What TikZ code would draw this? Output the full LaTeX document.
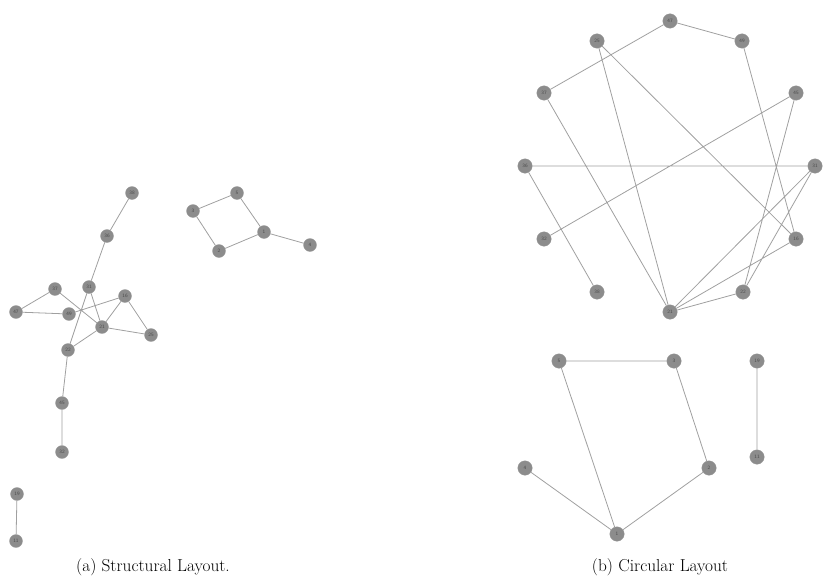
\documentclass[tikz,border=0pt]{standalone}
\usepackage{fontspec}
\begin{document}
\begin{tikzpicture}[x=1pt,y=-1pt,
  vtx/.style={circle,fill=nodegray,draw=nodeedge,line width=0.3pt,inner sep=0pt,minimum size=13pt,
    font=\sffamily\fontsize{5}{6}\selectfont,text=black!70},
  cvtx/.style={vtx,minimum size=14.5pt},
  lnk/.style={draw=linkgray,line width=0.8pt},
  captext/.style={font=\fontsize{17.3}{20}\selectfont,inner sep=0pt}]
\definecolor{nodegray}{HTML}{8C8C8C}
\definecolor{nodeedge}{HTML}{9A9A9A}
\definecolor{linkgray}{HTML}{A0A0A0}
\useasboundingbox (0,0) rectangle (829,586);
% ---------- (a) structural layout ----------
\node[vtx] (a38) at (132,193) {38};
\node[vtx] (a36) at (107,236) {36};
\node[vtx] (a31) at (89,287) {31};
\node[vtx] (a37) at (55,289) {37};
\node[vtx] (a16) at (125,296) {16};
\node[vtx] (a47) at (16,312) {47};
\node[vtx] (a49) at (69,314) {49};
\node[vtx] (a21) at (102,327) {21};
\node[vtx] (a25) at (151,335) {25};
\node[vtx] (a22) at (68,350) {22};
\node[vtx] (a45) at (62,403) {45};
\node[vtx] (a32) at (62,452) {32};
\node[vtx] (a19) at (17,494) {19};
\node[vtx] (a11) at (16,541) {11};
\node[vtx] (a5) at (237,193) {5};
\node[vtx] (a3) at (193,211) {3};
\node[vtx] (a1) at (264,232) {1};
\node[vtx] (a2) at (219,251) {2};
\node[vtx] (a4) at (310,245) {4};
\path[lnk] (a38) -- (a36) (a36) -- (a31) (a31) -- (a21) (a31) -- (a22)
  (a37) -- (a47) (a37) -- (a21) (a47) -- (a49) (a49) -- (a16)
  (a16) -- (a21) (a16) -- (a25) (a21) -- (a25) (a21) -- (a22)
  (a22) -- (a45) (a45) -- (a32) (a19) -- (a11)
  (a5) -- (a3) (a5) -- (a1) (a3) -- (a2) (a2) -- (a1) (a1) -- (a4);
% ---------- (b) circular layout ----------
\node[cvtx] (b41) at (670,21) {47};
\node[cvtx] (b25) at (597,41) {25};
\node[cvtx] (b46) at (742,41) {49};
\node[cvtx] (b37) at (544,93) {37};
\node[cvtx] (b48) at (796,93) {45};
\node[cvtx] (b26) at (525,166) {36};
\node[cvtx] (b31) at (815,166) {31};
\node[cvtx] (b30) at (544,239) {32};
\node[cvtx] (b16) at (796,239) {16};
\node[cvtx] (b38) at (597,292) {38};
\node[cvtx] (b22) at (743,292) {22};
\node[cvtx] (b21) at (670,312) {21};
\node[cvtx] (b5) at (559,361) {5};
\node[cvtx] (b3) at (674,361) {3};
\node[cvtx] (b19) at (757,361) {19};
\node[cvtx] (b11) at (757,457) {11};
\node[cvtx] (b4) at (525,468) {4};
\node[cvtx] (b2) at (709,468) {2};
\node[cvtx] (b1) at (617,534) {1};
\path[lnk] (b41) -- (b46) (b41) -- (b37) (b25) -- (b21) (b25) -- (b16)
  (b37) -- (b21) (b46) -- (b16) (b48) -- (b30) (b48) -- (b22)
  (b26) -- (b31) (b26) -- (b38) (b31) -- (b21) (b31) -- (b22)
  (b16) -- (b21) (b22) -- (b21)
  (b5) -- (b3) (b5) -- (b1) (b3) -- (b2) (b2) -- (b1) (b4) -- (b1) (b19) -- (b11);
% ---------- captions ----------
\node[captext] (capa) at (153,567) {(a) Structural Layout.};
\node[captext] (capb) at (660,567) {(b) Circular Layout};
\end{tikzpicture}
\end{document}
